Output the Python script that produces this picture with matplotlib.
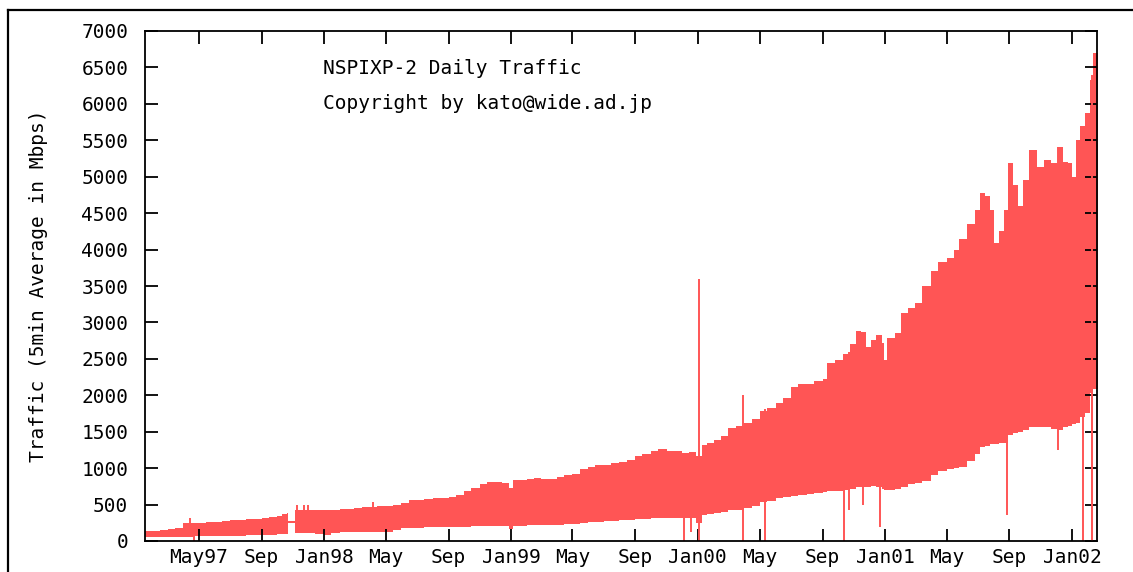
import numpy as np
import matplotlib
matplotlib.use("Agg")
from matplotlib import pyplot as plt
from matplotlib.lines import Line2D

# daily traffic envelope (Mbps): date, daily low, daily high
dates = ["1997-01-16", "1997-02-01", "1997-02-15", "1997-03-01", "1997-03-15", "1997-03-31",
         "1997-04-20", "1997-05-01", "1997-05-15", "1997-06-01", "1997-06-15", "1997-07-01",
         "1997-07-15", "1997-08-01", "1997-08-15", "1997-09-01", "1997-09-15", "1997-10-01",
         "1997-10-10", "1997-10-20", "1997-10-23", "1997-11-05", "1997-11-15", "1997-12-01",
         "1997-12-15", "1998-01-01", "1998-01-15", "1998-02-01", "1998-02-15", "1998-03-01",
         "1998-03-15", "1998-04-01", "1998-04-15", "1998-05-01", "1998-05-15", "1998-06-01",
         "1998-06-15", "1998-07-01", "1998-07-15", "1998-08-01", "1998-08-15", "1998-09-01",
         "1998-09-15", "1998-10-01", "1998-10-15", "1998-11-01", "1998-11-15", "1998-12-01",
         "1998-12-15", "1998-12-28", "1999-01-05", "1999-01-20", "1999-02-01", "1999-02-15",
         "1999-03-01", "1999-03-15", "1999-04-01", "1999-04-15", "1999-05-01", "1999-05-15",
         "1999-06-01", "1999-06-15", "1999-07-01", "1999-07-15", "1999-08-01", "1999-08-15",
         "1999-09-01", "1999-09-15", "1999-10-01", "1999-10-15", "1999-11-01", "1999-11-15",
         "1999-12-01", "1999-12-15", "1999-12-28", "2000-01-10", "2000-01-20", "2000-02-01",
         "2000-02-15", "2000-03-01", "2000-03-15", "2000-04-01", "2000-04-15", "2000-05-01",
         "2000-05-15", "2000-06-01", "2000-06-15", "2000-07-01", "2000-07-15", "2000-08-01",
         "2000-08-15", "2000-09-01", "2000-09-10", "2000-09-25", "2000-10-10", "2000-10-25",
         "2000-11-05", "2000-11-15", "2000-11-25", "2000-12-05", "2000-12-15", "2000-12-25",
         "2000-12-30", "2001-01-05", "2001-01-20", "2001-02-01", "2001-02-15", "2001-03-01",
         "2001-03-15", "2001-04-01", "2001-04-15", "2001-05-01", "2001-05-15", "2001-05-25",
         "2001-06-10", "2001-06-25", "2001-07-05", "2001-07-15", "2001-07-25", "2001-08-01",
         "2001-08-12", "2001-08-22", "2001-08-30", "2001-09-08", "2001-09-18", "2001-09-28",
         "2001-10-10", "2001-10-25", "2001-11-08", "2001-11-22", "2001-12-05", "2001-12-15",
         "2001-12-25", "2002-01-01", "2002-01-08", "2002-01-16", "2002-01-26", "2002-02-05",
         "2002-02-12", "2002-02-20"]
low = [50, 55, 55, 55, 60, 60,
       65, 70, 65, 70, 70, 75,
       75, 80, 80, 80, 85, 90,
       95, 95, 250, 110, 110, 115,
       100, 80, 110, 120, 125, 125,
       130, 130, 130, 120, 150, 180,
       185, 185, 190, 190, 190, 195,
       195, 195, 200, 205, 205, 205,
       200, 170, 200, 210, 215, 215,
       220, 220, 225, 230, 240, 250,
       255, 260, 270, 280, 290, 295,
       300, 305, 310, 315, 320, 320,
       320, 310, 250, 355, 370, 390,
       400, 420, 430, 450, 480, 530,
       550, 590, 610, 620, 630, 650,
       660, 675, 680, 690, 700, 720,
       740, 740, 745, 750, 740, 720,
       700, 705, 720, 740, 780, 800,
       830, 900, 960, 990, 1000, 1020,
       1100, 1200, 1290, 1300, 1330, 1330,
       1340, 1350, 1450, 1480, 1500, 1520,
       1560, 1560, 1570, 1540, 1530, 1560,
       1580, 1600, 1620, 1700, 1760, 2030,
       2080, 2080]
high = [135, 140, 150, 165, 175, 245,
        245, 250, 255, 265, 275, 285,
        290, 300, 305, 315, 330, 345,
        370, 385, 270, 430, 420, 425,
        425, 425, 430, 440, 445, 450,
        460, 470, 475, 480, 500, 525,
        560, 565, 575, 585, 595, 605,
        630, 680, 725, 780, 810, 815,
        800, 725, 835, 840, 855, 865,
        850, 855, 880, 900, 920, 995,
        1010, 1040, 1050, 1070, 1090, 1110,
        1170, 1200, 1230, 1260, 1240, 1230,
        1210, 1220, 1170, 1320, 1350, 1390,
        1440, 1550, 1580, 1620, 1680, 1790,
        1830, 1900, 1960, 2110, 2150, 2160,
        2190, 2230, 2440, 2480, 2560, 2700,
        2880, 2870, 2660, 2760, 2830, 2720,
        2480, 2790, 2850, 3130, 3200, 3270,
        3500, 3700, 3830, 3880, 4000, 4150,
        4350, 4550, 4780, 4730, 4550, 4090,
        4250, 4540, 5190, 4880, 4600, 4950,
        5370, 5130, 5230, 5190, 5410, 5200,
        5190, 5000, 5500, 5690, 5880, 6330,
        6700, 6700]

# single-day outliers
spike_dates = ["1997-04-14", "1997-04-22", "1997-11-08", "1997-11-22", "1997-11-30",
               "1998-04-07", "1999-12-05", "1999-12-19", "2000-01-03", "2000-03-29",
               "2000-05-12", "2000-10-12", "2000-10-23", "2000-11-18", "2000-12-22",
               "2001-08-27", "2001-12-05", "2002-01-22", "2002-02-09"]
spike_low = [60, 0, 110, 110, 110, 130, 0, 120, 0, 0,
             0, 0, 425, 495, 190, 355, 1250, 0, 0]
spike_high = [315, 250, 495, 495, 495, 535, 1210, 1220, 3600, 2000,
              1810, 2560, 2600, 2870, 2830, 4540, 5410, 5700, 6400]

tick_dates = ["1997-05-01", "1997-09-01", "1998-01-01", "1998-05-01", "1998-09-01",
              "1999-01-01", "1999-05-01", "1999-09-01", "2000-01-01", "2000-05-01",
              "2000-09-01", "2001-01-01", "2001-05-01", "2001-09-01", "2002-01-01"]
tick_labels = ["May97", "Sep", "Jan98", "May", "Sep", "Jan99", "May", "Sep", "Jan00",
               "May", "Sep", "Jan01", "May", "Sep", "Jan02"]

red = "#ff5555"
mono = "DejaVu Sans Mono"
fs = 14

fig = plt.figure(figsize=(11.33, 5.72), dpi=100)
ax = fig.add_axes([145 / 1133, 31 / 572, 952 / 1133, 510 / 572])

d = np.array(dates, dtype="datetime64[D]")
ax.fill_between(d, low, high, step="post", color=red, linewidth=0)
ax.vlines(np.array(spike_dates, dtype="datetime64[D]"), spike_low, spike_high,
          color=red, linewidth=1.4)

ax.set_xlim(np.datetime64("1997-01-16"), np.datetime64("2002-02-19"))
ax.set_ylim(0, 7000)
ax.set_yticks(range(0, 7001, 500))
ax.set_xticks(np.array(tick_dates, dtype="datetime64[D]"))
ax.set_xticklabels(tick_labels, fontfamily=mono, fontsize=fs)
for lab in ax.get_yticklabels():
    lab.set_fontfamily(mono)
    lab.set_fontsize(fs)

ax.tick_params(axis="both", direction="in", length=9, width=1.3, top=True, right=True)
ax.tick_params(axis="y", pad=12)
ax.tick_params(axis="x", pad=5)
for s in ax.spines.values():
    s.set_linewidth(1.3)

ax.set_ylabel("Traffic (5min Average in Mbps)", fontfamily=mono, fontsize=fs, labelpad=24)

ax.text(0.187, 0.927, "NSPIXP-2 Daily Traffic", transform=ax.transAxes,
        fontfamily=mono, fontsize=fs, va="center", ha="left")
ax.text(0.187, 0.857, "Copyright by kato@wide.ad.jp", transform=ax.transAxes,
        fontfamily=mono, fontsize=fs, va="center", ha="left")

# outer frame of the original image (cut at right and bottom)
fig.add_artist(Line2D([8 / 1133, 8 / 1133], [0, 1 - 10 / 572], color="black", linewidth=1.6))
fig.add_artist(Line2D([8 / 1133, 1], [1 - 10 / 572, 1 - 10 / 572], color="black", linewidth=1.6))

fig.savefig("out.png", dpi=100)
